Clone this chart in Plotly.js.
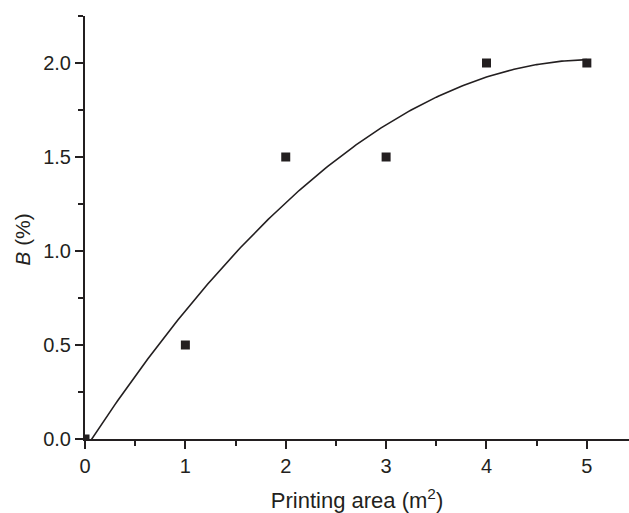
<!DOCTYPE html>
<html>
<head>
<meta charset="utf-8">
<script src="https://cdn.plot.ly/plotly-3.0.1.min.js"></script>
<style>
  html, body { margin: 0; padding: 0; background: #fff; }
  #chart { width: 629px; height: 513px; }
</style>
</head>
<body>
<div id="chart"></div>
<script>
// Measured data (Printing area in m², B in %)
const printingArea = [0, 1, 2, 3, 4, 5];
const bPercent = [0, 0.5, 1.5, 1.5, 2.0, 2.0];

// Axis tick values / labels
const xTickVals = [0, 1, 2, 3, 4, 5];
const xTickText = ["0", "1", "2", "3", "4", "5"];
const yTickVals = [0, 0.5, 1.0, 1.5, 2.0];
const yTickText = ["0.0", "0.5", "1.0", "1.5", "2.0"];

// Second-order polynomial least-squares fit of the measured data
function polyFit2(xs, ys) {
  let s0 = xs.length, s1 = 0, s2 = 0, s3 = 0, s4 = 0, t0 = 0, t1 = 0, t2 = 0;
  for (let i = 0; i < xs.length; i++) {
    const x = xs[i], y = ys[i];
    s1 += x; s2 += x * x; s3 += x * x * x; s4 += x * x * x * x;
    t0 += y; t1 += x * y; t2 += x * x * y;
  }
  const M = [[s0, s1, s2, t0], [s1, s2, s3, t1], [s2, s3, s4, t2]];
  for (let c = 0; c < 3; c++) {
    for (let r = c + 1; r < 3; r++) {
      const f = M[r][c] / M[c][c];
      for (let k = c; k < 4; k++) M[r][k] -= f * M[c][k];
    }
  }
  const sol = [0, 0, 0];
  for (let r = 2; r >= 0; r--) {
    let v = M[r][3];
    for (let k = r + 1; k < 3; k++) v -= M[r][k] * sol[k];
    sol[r] = v / M[r][r];
  }
  return sol;
}
const coef = polyFit2(printingArea, bPercent);
const fitX = [], fitY = [];
const xMin = Math.min(...printingArea), xMax = Math.max(...printingArea);
for (let i = 0; i <= 200; i++) {
  const x = xMin + (xMax - xMin) * i / 200;
  fitX.push(x);
  fitY.push(coef[0] + coef[1] * x + coef[2] * x * x);
}

const ink = "#231f20";
const font = "Liberation Sans, Arial, Helvetica, sans-serif";

const traces = [
  {
    x: fitX, y: fitY, type: "scatter", mode: "lines",
    line: { color: ink, width: 1.6 }, hoverinfo: "skip", showlegend: false
  },
  {
    x: printingArea, y: bPercent, type: "scatter", mode: "markers",
    marker: { symbol: "square", size: 9, color: ink }, showlegend: false
  }
];

const layout = {
  width: 629, height: 513,
  margin: { l: 85, r: 0, t: 16, b: 74 },
  paper_bgcolor: "#fff", plot_bgcolor: "#fff",
  font: { family: font, color: ink, size: 20 },
  showlegend: false,
  xaxis: {
    range: [0, 5.42],
    tickmode: "array", tickvals: xTickVals, ticktext: xTickText,
    ticks: "outside", ticklen: 8, tickwidth: 2, tickcolor: ink,
    minor: { dtick: 0.5, ticks: "outside", ticklen: 5, tickwidth: 2, tickcolor: ink, showgrid: false },
    showline: true, linewidth: 2, linecolor: ink,
    showgrid: false, zeroline: false,
    tickfont: { size: 20, family: font, color: ink },
    title: { text: "Printing area (m<sup>2</sup>)", font: { size: 22, family: font, color: ink }, standoff: 20 }
  },
  yaxis: {
    range: [0, 2.25],
    tickmode: "array", tickvals: yTickVals, ticktext: yTickText,
    ticks: "outside", ticklen: 8, tickwidth: 2, tickcolor: ink,
    minor: { dtick: 0.25, ticks: "outside", ticklen: 5, tickwidth: 2, tickcolor: ink, showgrid: false },
    showline: true, linewidth: 2, linecolor: ink,
    showgrid: false, zeroline: false,
    tickfont: { size: 20, family: font, color: ink }
  },
  annotations: [
    {
      text: "<i>B</i> (%)", textangle: -90,
      xref: "paper", x: (23 - 85) / 544, xanchor: "center",
      yref: "y", y: 1.06, yanchor: "middle",
      showarrow: false, font: { size: 21, family: font, color: ink }
    }
  ]
};

Plotly.newPlot("chart", traces, layout, { staticPlot: true, displayModeBar: false });
</script>
</body>
</html>
